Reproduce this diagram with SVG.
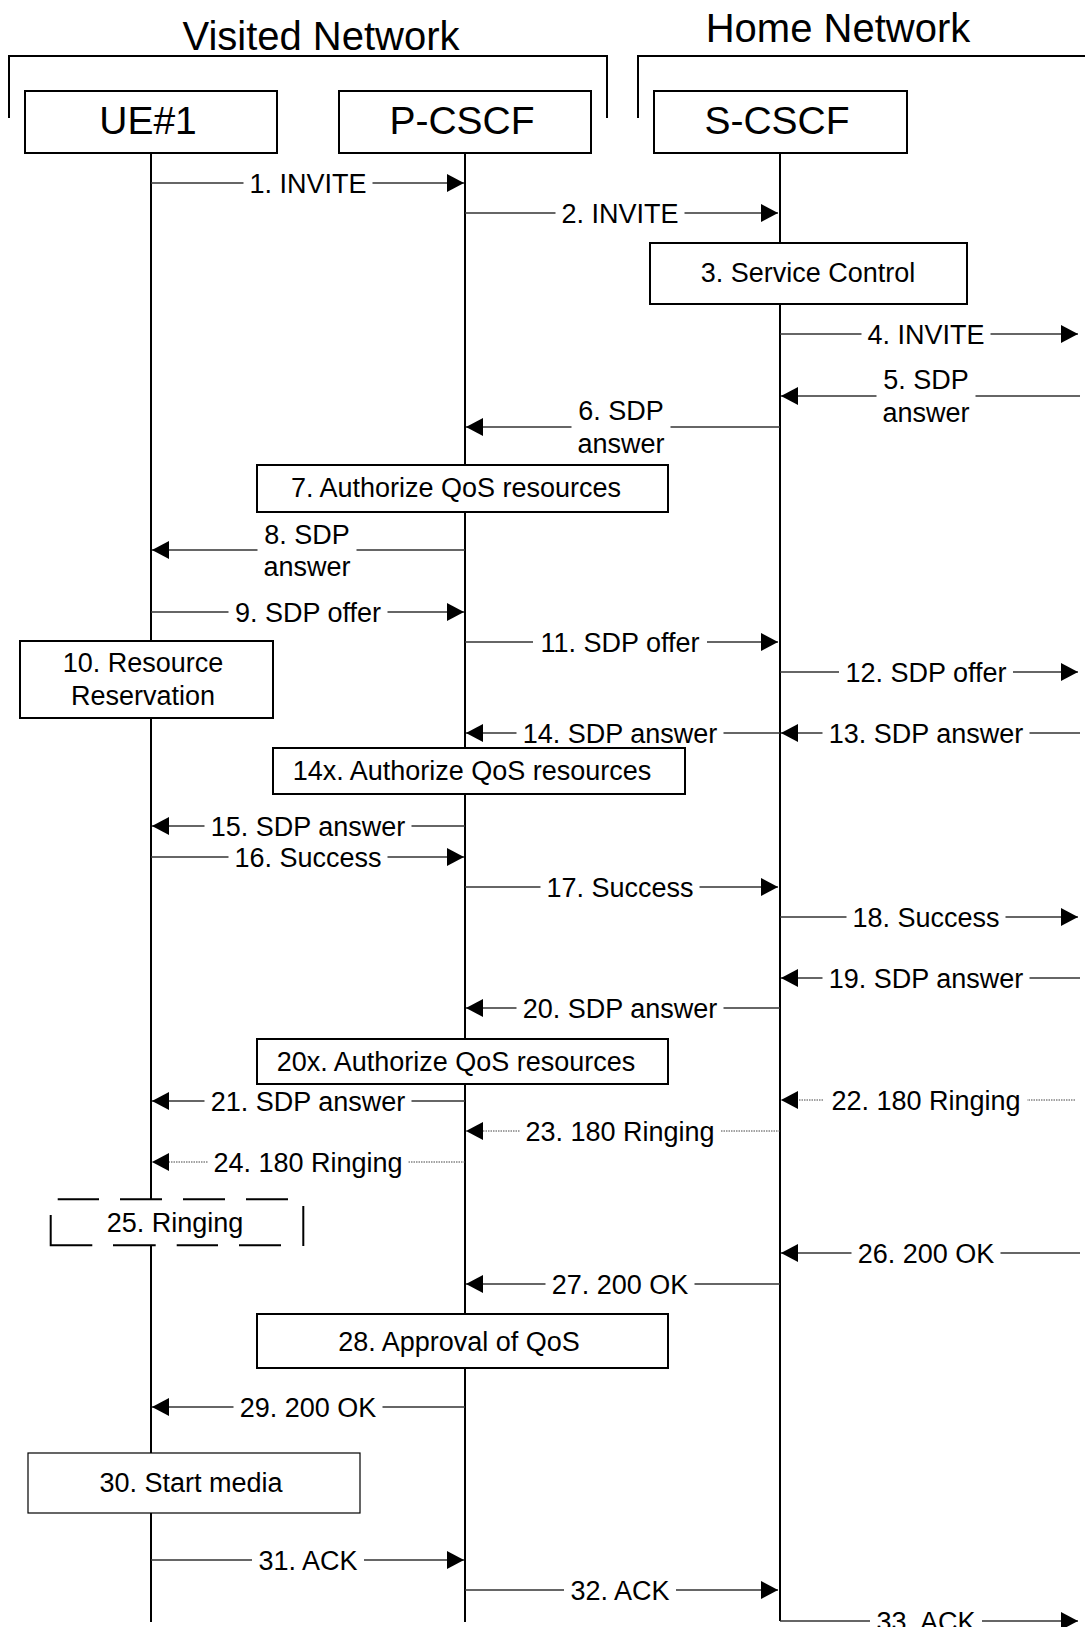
<svg xmlns="http://www.w3.org/2000/svg" width="1085" height="1627" viewBox="0 0 1085 1627">
<style>
text{font-family:"Liberation Sans",Arial,sans-serif;fill:#000}
.title{font-size:40px;text-anchor:middle}
.node{font-size:39px;text-anchor:middle}
.lbl{font-size:27px;text-anchor:middle}
.frame{fill:none;stroke:#000;stroke-width:2}
.life{stroke:#000;stroke-width:2;fill:none}
.box{fill:#fff;stroke:#000;stroke-width:2}
.thin{fill:#fff;stroke:#000;stroke-width:1.2}
.msg{stroke:#333;stroke-width:1.3;fill:none}
.dot{stroke:#444;stroke-width:1;stroke-dasharray:1.5 1;fill:none}
.dash{stroke:#000;stroke-width:2;fill:none}
.arr{marker-end:url(#ah)}
</style>
<defs>
<marker id="ah" markerUnits="userSpaceOnUse" markerWidth="18" markerHeight="18" refX="17" refY="9" orient="auto">
<path d="M0,0 L17,9 L0,18 z" fill="#000"/>
</marker>
</defs>
<rect width="1085" height="1627" fill="#fff"/>

<g id="frames">
<text class="title" x="321" y="50">Visited Network</text>
<path class="frame" d="M9,118 V56 H607 V118"/>
<text class="title" x="838" y="42">Home Network</text>
<path class="frame" d="M638,118 V56 H1085"/>
</g>

<g id="lifelines">
<line class="life" x1="151" y1="153" x2="151" y2="1622"/>
<line class="life" x1="465" y1="153" x2="465" y2="1622"/>
<line class="life" x1="780" y1="153" x2="780" y2="1621"/>
</g>

<g id="connectors">
<g id="m1"><line class="msg" x1="151" y1="183" x2="243.5" y2="183"/><line class="msg arr" x1="372.5" y1="183" x2="464" y2="183"/><text class="lbl" x="308" y="192.5">1. INVITE</text></g>
<g id="m2"><line class="msg" x1="465" y1="213" x2="555.5" y2="213"/><line class="msg arr" x1="684.5" y1="213" x2="778" y2="213"/><text class="lbl" x="620" y="222.5">2. INVITE</text></g>
<g id="m4"><line class="msg" x1="780" y1="334" x2="861.5" y2="334"/><line class="msg arr" x1="990.5" y1="334" x2="1078" y2="334"/><text class="lbl" x="926" y="343.5">4. INVITE</text></g>
<g id="m5"><line class="msg" x1="1080" y1="396" x2="975.5" y2="396"/><line class="msg arr" x1="876.5" y1="396" x2="781" y2="396"/><text class="lbl" x="926" y="388.5">5. SDP</text><text class="lbl" x="926" y="421.5">answer</text></g>
<g id="m6"><line class="msg" x1="780" y1="427" x2="670.5" y2="427"/><line class="msg arr" x1="571.5" y1="427" x2="466" y2="427"/><text class="lbl" x="621" y="419.5">6. SDP</text><text class="lbl" x="621" y="452.5">answer</text></g>
<g id="m8"><line class="msg" x1="465" y1="550" x2="356.5" y2="550"/><line class="msg arr" x1="257.5" y1="550" x2="152" y2="550"/><text class="lbl" x="307" y="543.5">8. SDP</text><text class="lbl" x="307" y="576">answer</text></g>
<g id="m9"><line class="msg" x1="151" y1="612" x2="228.5" y2="612"/><line class="msg arr" x1="387.5" y1="612" x2="464" y2="612"/><text class="lbl" x="308" y="621.5">9. SDP offer</text></g>
<g id="m11"><line class="msg" x1="465" y1="642" x2="533" y2="642"/><line class="msg arr" x1="707" y1="642" x2="778" y2="642"/><text class="lbl" x="620" y="651.5">11. SDP offer</text></g>
<g id="m12"><line class="msg" x1="780" y1="672" x2="839" y2="672"/><line class="msg arr" x1="1013" y1="672" x2="1078" y2="672"/><text class="lbl" x="926" y="681.5">12. SDP offer</text></g>
<g id="m13"><line class="msg" x1="1080" y1="733" x2="1029.5" y2="733"/><line class="msg arr" x1="822.5" y1="733" x2="781" y2="733"/><text class="lbl" x="926" y="742.5">13. SDP answer</text></g>
<g id="m14"><line class="msg" x1="780" y1="733" x2="723.5" y2="733"/><line class="msg arr" x1="516.5" y1="733" x2="466" y2="733"/><text class="lbl" x="620" y="742.5">14. SDP answer</text></g>
<g id="m15"><line class="msg" x1="465" y1="826" x2="411.5" y2="826"/><line class="msg arr" x1="204.5" y1="826" x2="152" y2="826"/><text class="lbl" x="308" y="835.5">15. SDP answer</text></g>
<g id="m16"><line class="msg" x1="151" y1="857" x2="228.5" y2="857"/><line class="msg arr" x1="387.5" y1="857" x2="464" y2="857"/><text class="lbl" x="308" y="866.5">16. Success</text></g>
<g id="m17"><line class="msg" x1="465" y1="887" x2="540.5" y2="887"/><line class="msg arr" x1="699.5" y1="887" x2="778" y2="887"/><text class="lbl" x="620" y="896.5">17. Success</text></g>
<g id="m18"><line class="msg" x1="780" y1="917" x2="846.5" y2="917"/><line class="msg arr" x1="1005.5" y1="917" x2="1078" y2="917"/><text class="lbl" x="926" y="926.5">18. Success</text></g>
<g id="m19"><line class="msg" x1="1080" y1="978" x2="1029.5" y2="978"/><line class="msg arr" x1="822.5" y1="978" x2="781" y2="978"/><text class="lbl" x="926" y="987.5">19. SDP answer</text></g>
<g id="m20"><line class="msg" x1="780" y1="1008" x2="723.5" y2="1008"/><line class="msg arr" x1="516.5" y1="1008" x2="466" y2="1008"/><text class="lbl" x="620" y="1017.5">20. SDP answer</text></g>
<g id="m21"><line class="msg" x1="465" y1="1101" x2="411.5" y2="1101"/><line class="msg arr" x1="204.5" y1="1101" x2="152" y2="1101"/><text class="lbl" x="308" y="1110.5">21. SDP answer</text></g>
<g id="m22"><line class="dot" x1="1075" y1="1100" x2="1027" y2="1100"/><line class="dot arr" x1="823" y1="1100" x2="781" y2="1100"/><text class="lbl" x="926" y="1109.5">22. 180 Ringing</text></g>
<g id="m23"><line class="dot" x1="780" y1="1131" x2="720.5" y2="1131"/><line class="dot arr" x1="519.5" y1="1131" x2="466" y2="1131"/><text class="lbl" x="620" y="1140.5">23. 180 Ringing</text></g>
<g id="m24"><line class="dot" x1="465" y1="1162" x2="408.5" y2="1162"/><line class="dot arr" x1="207.5" y1="1162" x2="152" y2="1162"/><text class="lbl" x="308" y="1171.5">24. 180 Ringing</text></g>
<g id="m26"><line class="msg" x1="1080" y1="1253" x2="1000.5" y2="1253"/><line class="msg arr" x1="851.5" y1="1253" x2="781" y2="1253"/><text class="lbl" x="926" y="1262.5">26. 200 OK</text></g>
<g id="m27"><line class="msg" x1="780" y1="1284" x2="694.5" y2="1284"/><line class="msg arr" x1="545.5" y1="1284" x2="466" y2="1284"/><text class="lbl" x="620" y="1293.5">27. 200 OK</text></g>
<g id="m29"><line class="msg" x1="465" y1="1407" x2="382.5" y2="1407"/><line class="msg arr" x1="233.5" y1="1407" x2="152" y2="1407"/><text class="lbl" x="308" y="1416.5">29. 200 OK</text></g>
<g id="m31"><line class="msg" x1="151" y1="1560" x2="252" y2="1560"/><line class="msg arr" x1="364" y1="1560" x2="464" y2="1560"/><text class="lbl" x="308" y="1569.5">31. ACK</text></g>
<g id="m32"><line class="msg" x1="465" y1="1590" x2="564" y2="1590"/><line class="msg arr" x1="676" y1="1590" x2="778" y2="1590"/><text class="lbl" x="620" y="1599.5">32. ACK</text></g>
<g id="m33"><line class="msg" x1="780" y1="1621" x2="870" y2="1621"/><line class="msg arr" x1="982" y1="1621" x2="1078" y2="1621"/><text class="lbl" x="926" y="1630.5">33. ACK</text></g>
</g>

<g id="ue1"><rect class="box" x="25" y="91" width="252" height="62"/><text class="node" x="148" y="134">UE#1</text></g>
<g id="pcscf"><rect class="box" x="339" y="91" width="252" height="62"/><text class="node" x="462" y="134">P-CSCF</text></g>
<g id="scscf"><rect class="box" x="654" y="91" width="253" height="62"/><text class="node" x="777" y="134">S-CSCF</text></g>

<g id="n3"><rect class="box" x="650" y="243" width="317" height="61"/><text class="lbl" x="808" y="282">3. Service Control</text></g>
<g id="n7"><rect class="box" x="257" y="465" width="411" height="47"/><text class="lbl" x="456" y="496.5">7. Authorize QoS resources</text></g>
<g id="n10"><rect class="box" x="20" y="641" width="253" height="77"/><text class="lbl" x="143" y="671.5">10. Resource</text><text class="lbl" x="143" y="704.5">Reservation</text></g>
<g id="n14x"><rect class="box" x="273" y="748" width="412" height="46"/><text class="lbl" x="472" y="779.5">14x. Authorize QoS resources</text></g>
<g id="n20x"><rect class="box" x="257" y="1039" width="411" height="45"/><text class="lbl" x="456" y="1071">20x. Authorize QoS resources</text></g>
<g id="n25">
<rect x="51" y="1199" width="252" height="46" fill="#fff"/>
<path class="dash" d="M57.7,1199.3 H99 M120,1199.3 H162 M183,1199.3 H225 M246,1199.3 H288 M50.7,1215 V1245.3 H92.3 M113,1245.3 H155.7 M176.7,1245.3 H218 M239,1245.3 H281 M303.3,1206 V1246"/>
<text class="lbl" x="175" y="1231.5">25. Ringing</text>
</g>
<g id="n28"><rect class="box" x="257" y="1314" width="411" height="54"/><text class="lbl" x="459" y="1351">28. Approval of QoS</text></g>
<g id="n30"><rect class="thin" x="28" y="1453" width="332" height="60"/><text class="lbl" x="191" y="1492">30. Start media</text></g>
</svg>
